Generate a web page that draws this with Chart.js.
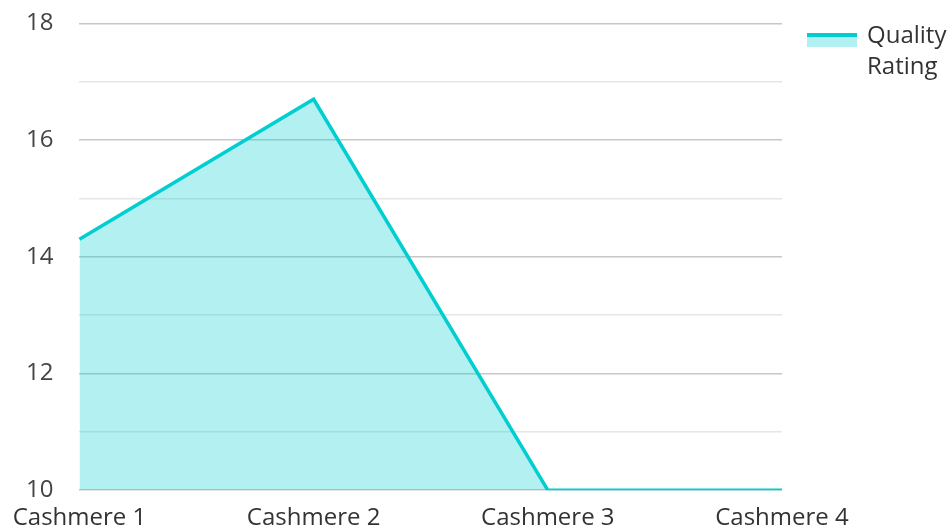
<!DOCTYPE html>
<html>
<head>
<meta charset="utf-8">
<script src="https://cdn.jsdelivr.net/npm/chart.js"></script>
<style>
  html, body { margin: 0; padding: 0; background: #fff; overflow: hidden; }
  #wrap { width: 952px; height: 531px; position: relative; overflow: hidden; }
  #chart { position: absolute; left: 0; top: -17px; }
</style>
</head>
<body>
<div id="wrap"><canvas id="chart" width="952" height="556"></canvas></div>
<script>
// datos
const categorias = ['Cashmere 1', 'Cashmere 2', 'Cashmere 3', 'Cashmere 4'];
const calidad = [14.3, 16.7, 10, 10];
const etiquetasY = [10, 12, 14, 16, 18];
const nombreSerie = ['Quality', 'Rating'];

const colorLinea = '#00CED1';
const colorRelleno = 'rgba(0, 206, 209, 0.3)';
const fuente = "'Open Sans', 'Noto Sans', sans-serif";

// leyenda dibujada a mano (texto en dos líneas)
const leyenda = {
  id: 'leyenda',
  afterDraw(chart) {
    const ctx = chart.ctx;
    const x = 807, y = 33 + 17; // el canvas está desplazado 17px hacia arriba
    ctx.save();
    ctx.fillStyle = colorRelleno;
    ctx.fillRect(x, y + 3, 50, 11);
    ctx.fillStyle = colorLinea;
    ctx.fillRect(x, y, 50, 4);
    ctx.fillStyle = '#333';
    ctx.font = '24px ' + fuente;
    ctx.textBaseline = 'middle';
    ctx.textAlign = 'left';
    nombreSerie.forEach((t, i) => ctx.fillText(t, x + 60, y + 3 + i * 31));
    ctx.restore();
  }
};

new Chart(document.getElementById('chart'), {
  type: 'line',
  data: {
    labels: categorias,
    datasets: [{
      label: nombreSerie.join(' '),
      data: calidad,
      borderColor: colorLinea,
      backgroundColor: colorRelleno,
      borderWidth: 3.5,
      fill: 'start',
      pointRadius: 0,
      tension: 0
    }]
  },
  options: {
    responsive: false,
    animation: false,
    layout: { padding: { top: 0, right: 170, left: 0, bottom: 0 } },
    plugins: { legend: { display: false }, tooltip: { enabled: false } },
    scales: {
      x: {
        grid: { display: false },
        border: { display: false },
        ticks: { color: '#333', font: { family: fuente, size: 24 }, padding: 6, maxRotation: 0, autoSkip: false }
      },
      y: {
        min: 10, max: 18,
        border: { display: false },
        grid: {
          color: c => etiquetasY.includes(c.tick.value) ? '#c8c8c8' : '#e6e6e6',
          lineWidth: 1.5,
          drawTicks: false
        },
        ticks: {
          stepSize: 1,
          color: '#444',
          font: { family: fuente, size: 24 },
          padding: 26,
          callback: v => etiquetasY.includes(v) ? v : ''
        }
      }
    }
  },
  plugins: [leyenda]
});
</script>
</body>
</html>
